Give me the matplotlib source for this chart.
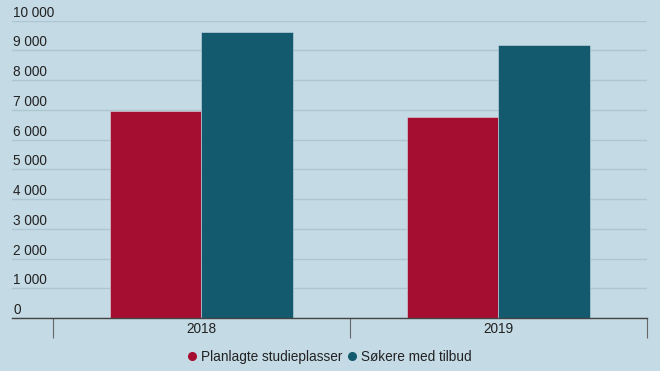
#!/usr/bin/env python3
"""Planned study places vs. applicants with offers, 2018-2019."""

import matplotlib

matplotlib.use("Agg")
import matplotlib.pyplot as plt
from matplotlib.lines import Line2D
import numpy as np

years = ["2018", "2019"]
planlagte = [6970, 6770]
sokere = [9610, 9190]
series_names = ["Planlagte studieplasser", "Søkere med tilbud"]
y_ticks = [0, 1000, 2000, 3000, 4000, 5000, 6000, 7000, 8000, 9000, 10000]

BG = "#c4dae4"
GRID = "#adc6d2"
RED = "#a60e31"
TEAL = "#135a6f"
TEXT = "#222222"
FS = 9.8

plt.rcParams["font.family"] = ["Liberation Sans", "DejaVu Sans"]

W, H = 660, 371
fig = plt.figure(figsize=(W / 100, H / 100), dpi=100, facecolor=BG)
# axes spans pixel x 12..647, y 20.7 (10 000) .. 318 (0)
ax = fig.add_axes([12 / W, (H - 318) / H, (647 - 12) / W, (318 - 20.7) / H])
ax.set_facecolor(BG)

x = np.arange(len(years))
width = 0.308
ax.bar(x - width / 2, planlagte, width, color=RED, edgecolor="#d9d9e0", linewidth=0.4, zorder=3)
ax.bar(x + width / 2, sokere, width, color=TEAL, edgecolor="#c9dbe3", linewidth=0.4, zorder=3)

ax.set_xlim(-0.638, len(years) - 0.5)
ax.set_ylim(0, 10000)

for v in y_ticks:
    ax.axhline(v, color=GRID, linewidth=1.0, zorder=1)
    ax.annotate(
        f"{v:,}".replace(",", " "),
        xy=(0, v),
        xycoords=("axes fraction", "data"),
        xytext=(1, 1),
        textcoords="offset pixels",
        ha="left",
        va="bottom",
        fontsize=FS,
        color=TEXT,
        zorder=4,
    )

ax.set_yticks([])
for side in ("left", "right", "top"):
    ax.spines[side].set_visible(False)
ax.spines["bottom"].set_color("#444444")
ax.spines["bottom"].set_linewidth(1.0)
ax.spines["bottom"].set_zorder(5)

ax.set_xticks(np.arange(len(years) + 1) - 0.5)
ax.set_xticklabels([])
ax.tick_params(axis="x", which="major", length=14.5, width=0.8, color="#666666")
ax.set_xticks(x, minor=True)
ax.set_xticklabels(years, minor=True)
ax.tick_params(axis="x", which="minor", length=0, pad=3, labelsize=FS, labelcolor=TEXT)

handles = [
    Line2D([], [], marker="o", linestyle="", markersize=5.5, color=RED),
    Line2D([], [], marker="o", linestyle="", markersize=5.5, color=TEAL),
]
fig.legend(
    handles,
    series_names,
    loc="center",
    bbox_to_anchor=(0.5, 1 - 357 / H),
    ncol=2,
    frameon=False,
    fontsize=FS,
    handlelength=0.6,
    handletextpad=0.35,
    columnspacing=0.4,
    labelcolor=TEXT,
)

fig.savefig("out.png", dpi=100, facecolor=BG)
